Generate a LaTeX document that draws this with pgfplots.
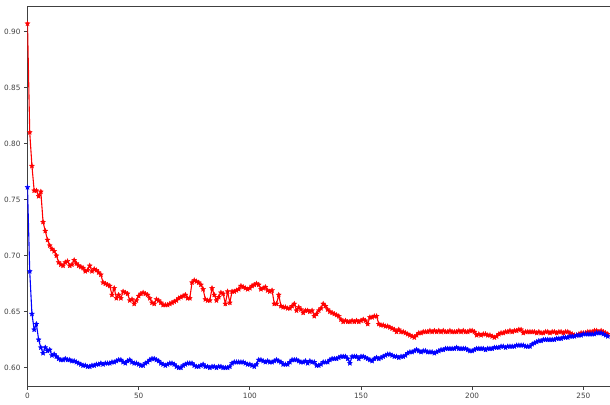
\documentclass[border=0pt]{standalone}
\usepackage{fontspec}
\setmainfont{DejaVu Sans}
\usepackage{pgfplots}
\usepackage{pgfplotstable}
\pgfplotsset{compat=1.18}

% filled five-pointed star, like matplotlib's '*'
\pgfdeclareplotmark{fstar}{%
  \pgfpathmoveto{\pgfpointpolar{90}{\pgfplotmarksize}}%
  \pgfpathlineto{\pgfpointpolar{126}{0.45\pgfplotmarksize}}%
  \pgfpathlineto{\pgfpointpolar{162}{\pgfplotmarksize}}%
  \pgfpathlineto{\pgfpointpolar{198}{0.45\pgfplotmarksize}}%
  \pgfpathlineto{\pgfpointpolar{234}{\pgfplotmarksize}}%
  \pgfpathlineto{\pgfpointpolar{270}{0.45\pgfplotmarksize}}%
  \pgfpathlineto{\pgfpointpolar{306}{\pgfplotmarksize}}%
  \pgfpathlineto{\pgfpointpolar{342}{0.45\pgfplotmarksize}}%
  \pgfpathlineto{\pgfpointpolar{18}{\pgfplotmarksize}}%
  \pgfpathlineto{\pgfpointpolar{54}{0.45\pgfplotmarksize}}%
  \pgfpathclose
  \pgfusepathqfillstroke}

\pgfplotstableread{
x red blue
0 0.907 0.761
1 0.810 0.686
2 0.780 0.648
3 0.758 0.634
4 0.758 0.639
5 0.753 0.625
6 0.757 0.618
7 0.730 0.613
8 0.722 0.618
9 0.714 0.615
10 0.709 0.616
11 0.706 0.611
12 0.704 0.612
13 0.700 0.610
14 0.694 0.608
15 0.692 0.607
16 0.691 0.607
17 0.694 0.608
18 0.695 0.607
19 0.691 0.607
20 0.692 0.606
21 0.696 0.606
22 0.693 0.605
23 0.691 0.604
24 0.690 0.603
25 0.689 0.602
26 0.686 0.602
27 0.687 0.601
28 0.691 0.601
29 0.686 0.602
30 0.688 0.602
31 0.687 0.603
32 0.685 0.603
33 0.683 0.604
34 0.676 0.603
35 0.675 0.604
36 0.674 0.604
37 0.673 0.604
38 0.665 0.605
39 0.671 0.605
40 0.662 0.606
41 0.665 0.607
42 0.662 0.607
43 0.668 0.605
44 0.667 0.604
45 0.666 0.606
46 0.660 0.607
47 0.661 0.605
48 0.657 0.604
49 0.660 0.604
50 0.664 0.603
51 0.666 0.602
52 0.667 0.602
53 0.666 0.604
54 0.665 0.605
55 0.662 0.607
56 0.658 0.608
57 0.657 0.608
58 0.661 0.607
59 0.660 0.606
60 0.658 0.604
61 0.656 0.603
62 0.656 0.602
63 0.656 0.603
64 0.657 0.604
65 0.658 0.604
66 0.659 0.603
67 0.660 0.601
68 0.662 0.600
69 0.663 0.600
70 0.664 0.602
71 0.665 0.603
72 0.662 0.604
73 0.662 0.604
74 0.676 0.604
75 0.678 0.602
76 0.677 0.601
77 0.676 0.601
78 0.674 0.602
79 0.670 0.603
80 0.661 0.601
81 0.660 0.601
82 0.660 0.600
83 0.671 0.601
84 0.665 0.601
85 0.660 0.600
86 0.663 0.601
87 0.667 0.601
88 0.666 0.600
89 0.657 0.600
90 0.668 0.600
91 0.658 0.601
92 0.668 0.604
93 0.668 0.605
94 0.669 0.605
95 0.670 0.605
96 0.673 0.605
97 0.672 0.605
98 0.671 0.604
99 0.670 0.603
100 0.671 0.603
101 0.673 0.602
102 0.674 0.601
103 0.675 0.603
104 0.674 0.607
105 0.670 0.607
106 0.671 0.606
107 0.672 0.605
108 0.669 0.606
109 0.668 0.605
110 0.669 0.605
111 0.657 0.606
112 0.657 0.607
113 0.665 0.606
114 0.655 0.605
115 0.654 0.603
116 0.654 0.603
117 0.653 0.603
118 0.653 0.605
119 0.655 0.607
120 0.657 0.607
121 0.651 0.607
122 0.654 0.606
123 0.652 0.605
124 0.649 0.605
125 0.651 0.606
126 0.651 0.604
127 0.650 0.606
128 0.651 0.605
129 0.646 0.605
130 0.648 0.602
131 0.651 0.602
132 0.653 0.603
133 0.657 0.605
134 0.655 0.605
135 0.652 0.605
136 0.650 0.607
137 0.649 0.608
138 0.648 0.608
139 0.647 0.608
140 0.646 0.609
141 0.643 0.610
142 0.641 0.610
143 0.642 0.610
144 0.641 0.608
145 0.641 0.604
146 0.642 0.610
147 0.641 0.610
148 0.642 0.610
149 0.641 0.608
150 0.642 0.610
151 0.643 0.610
152 0.642 0.609
153 0.639 0.608
154 0.645 0.607
155 0.645 0.606
156 0.646 0.608
157 0.646 0.609
158 0.639 0.608
159 0.638 0.609
160 0.638 0.610
161 0.637 0.611
162 0.637 0.612
163 0.636 0.612
164 0.635 0.611
165 0.634 0.610
166 0.632 0.610
167 0.634 0.609
168 0.632 0.610
169 0.632 0.610
170 0.631 0.611
171 0.630 0.613
172 0.629 0.614
173 0.628 0.614
174 0.627 0.615
175 0.629 0.616
176 0.631 0.615
177 0.631 0.614
178 0.632 0.615
179 0.632 0.615
180 0.632 0.614
181 0.633 0.614
182 0.632 0.614
183 0.633 0.613
184 0.632 0.614
185 0.633 0.615
186 0.632 0.616
187 0.633 0.616
188 0.632 0.617
189 0.632 0.617
190 0.633 0.617
191 0.632 0.617
192 0.632 0.617
193 0.632 0.618
194 0.633 0.617
195 0.632 0.617
196 0.633 0.617
197 0.632 0.617
198 0.632 0.616
199 0.633 0.615
200 0.633 0.615
201 0.632 0.616
202 0.629 0.617
203 0.630 0.617
204 0.629 0.617
205 0.630 0.617
206 0.630 0.616
207 0.629 0.617
208 0.629 0.617
209 0.628 0.617
210 0.627 0.618
211 0.628 0.618
212 0.630 0.618
213 0.631 0.619
214 0.631 0.619
215 0.632 0.618
216 0.632 0.619
217 0.633 0.619
218 0.632 0.619
219 0.633 0.619
220 0.633 0.620
221 0.634 0.620
222 0.634 0.620
223 0.631 0.620
224 0.632 0.619
225 0.632 0.619
226 0.632 0.619
227 0.632 0.621
228 0.632 0.622
229 0.631 0.623
230 0.632 0.624
231 0.631 0.624
232 0.631 0.625
233 0.632 0.625
234 0.632 0.625
235 0.631 0.625
236 0.632 0.625
237 0.632 0.625
238 0.631 0.626
239 0.632 0.626
240 0.632 0.626
241 0.631 0.627
242 0.632 0.627
243 0.632 0.627
244 0.631 0.628
245 0.630 0.628
246 0.629 0.628
247 0.629 0.629
248 0.630 0.629
249 0.631 0.629
250 0.631 0.630
251 0.631 0.630
252 0.632 0.630
253 0.632 0.630
254 0.632 0.630
255 0.633 0.630
256 0.633 0.631
257 0.632 0.631
258 0.633 0.631
259 0.632 0.630
260 0.631 0.629
261 0.630 0.628
}\losses

\begin{document}
\begin{tikzpicture}
\begin{axis}[
    scale only axis,
    width=582.5pt, height=380pt,
    xmin=0, xmax=262,
    ymin=0.5837, ymax=0.9227,
    axis x line*=box, axis y line*=left,
    xtick pos=left,
    tick align=outside,
    major tick length=3.5pt,
    xtick={0,50,100,150,200,250},
    ytick={0.60,0.65,0.70,0.75,0.80,0.85,0.90},
    axis line style={draw=black!75, line width=0.8pt},
    every tick/.style={black!75, line width=0.8pt},
    tick label style={font=\fontsize{7.3}{8}\selectfont, text=black!75},
    /pgf/number format/assume math mode=true,
    yticklabel style={/pgf/number format/.cd, fixed, fixed zerofill, precision=2},
    xticklabel style={/pgf/number format/.cd, fixed, precision=0},
    scaled y ticks=false,
    clip=true,
]
\addplot[red, line width=1.1pt, mark=fstar, mark size=2.6pt,
    mark options={fill=red, line width=0.3pt}] table[x=x, y=red] {\losses};
\addplot[blue, line width=1.1pt, mark=fstar, mark size=2.6pt,
    mark options={fill=blue, line width=0.3pt}] table[x=x, y=blue] {\losses};
\end{axis}
\pgfresetboundingbox
\useasboundingbox (-27.5pt,-18pt) rectangle (582.5pt,386pt);
\end{tikzpicture}
\end{document}
